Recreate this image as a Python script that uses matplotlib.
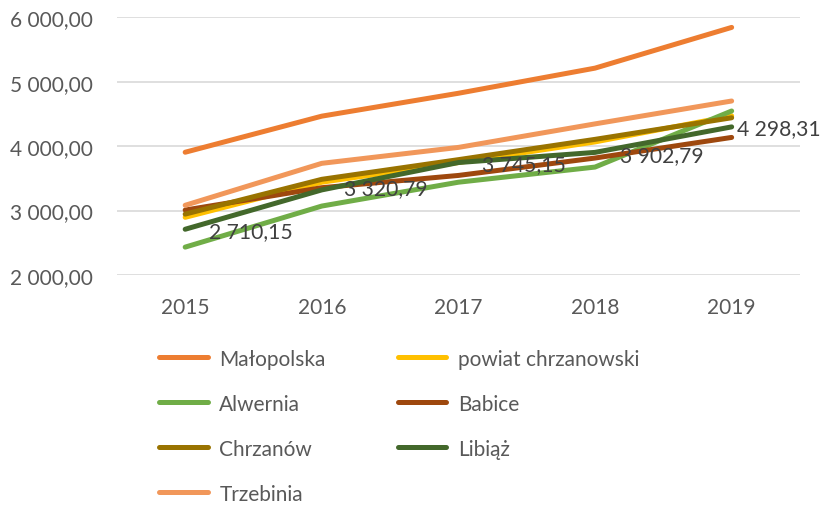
import matplotlib.pyplot as plt
import matplotlib.ticker as mticker
import numpy as np

years = ["2015", "2016", "2017", "2018", "2019"]

malopolska = [3905, 4465, 4820, 5210, 5842]
powiat = [2895, 3440, 3745, 4065, 4470]
alwernia = [2433, 3070, 3440, 3675, 4545]
babice = [3008, 3355, 3545, 3815, 4135]
chrzanow = [2945, 3485, 3790, 4105, 4440]
libiaz = [2710.15, 3320.79, 3745.15, 3902.79, 4298.31]
trzebinia = [3082, 3733, 3980, 4345, 4700]

series = [
    ("Małopolska", malopolska, "#ED7D31"),
    ("powiat chrzanowski", powiat, "#FFC000"),
    ("Alwernia", alwernia, "#70AD47"),
    ("Babice", babice, "#9E480E"),
    ("Chrzanów", chrzanow, "#997300"),
    ("Libiąż", libiaz, "#43682B"),
    ("Trzebinia", trzebinia, "#F1975A"),
]

plt.rcParams['font.family'] = ['Lato', 'DejaVu Sans']

def pl_fmt(v, pos=None):
    s = f"{v:,.2f}"
    return s.replace(",", " ").replace(".", ",")

fig = plt.figure(figsize=(8.23, 5.06), dpi=100)
ax = fig.add_axes([0.142, 0.4545, 0.830, 0.5095])

x = np.arange(len(years))
handles = {}
for name, vals, col in series:
    ln, = ax.plot(x, vals, color=col, lw=3.6, solid_capstyle='round', label=name)
    handles[name] = ln

# label offsets (points) as Excel placed them
label_dx = [17, 16, 17, 18, 3.5]
label_dy = [-1, 1, -1, -2, -1]
for xi, v, dx, dy in zip(x, libiaz, label_dx, label_dy):
    ax.annotate(pl_fmt(v), (xi, v), xytext=(dx, dy), textcoords='offset points',
                va='center', ha='left', fontsize=15.2, color='#404040',
                annotation_clip=False)

ax.set_xlim(-0.5, 4.5)
ax.set_ylim(2000, 6000)
ax.set_yticks([2000, 3000, 4000, 5000, 6000])
ax.yaxis.set_major_formatter(mticker.FuncFormatter(pl_fmt))
ax.set_xticks(x)
ax.set_xticklabels(years)
ax.tick_params(length=0, labelsize=15, colors='#595959')
ax.tick_params(axis='y', pad=17)
ax.tick_params(axis='x', pad=16)
ax.grid(axis='y', color='#D9D9D9', lw=1.2)
ax.set_axisbelow(True)
for s in ax.spines.values():
    s.set_visible(False)

order = ["Małopolska", "Alwernia", "Chrzanów", "Trzebinia",
         "powiat chrzanowski", "Babice", "Libiąż"]
leg = fig.legend([handles[n] for n in order], order, ncol=2,
                 loc='upper left', bbox_to_anchor=(0.193, 0.309),
                 frameon=False, fontsize=15, handlelength=2.35,
                 handletextpad=0.55, columnspacing=3.45, labelspacing=1.2,
                 borderaxespad=0, borderpad=0)
for t in leg.get_texts():
    t.set_color('#595959')

fig.savefig("out.png", dpi=100)
